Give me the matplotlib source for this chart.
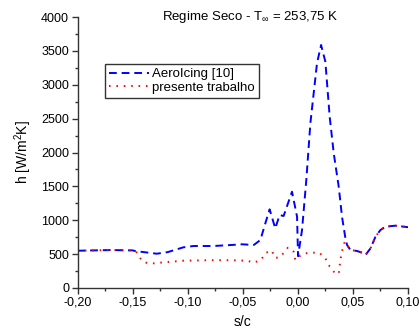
import matplotlib
matplotlib.use("Agg")
import matplotlib.pyplot as plt
from matplotlib.ticker import MultipleLocator, FuncFormatter

plt.rcParams['font.family'] = ['Liberation Sans', 'DejaVu Sans']
plt.rcParams['mathtext.fontset'] = 'custom'
plt.rcParams['mathtext.rm'] = 'Liberation Sans'
plt.rcParams['mathtext.it'] = 'Liberation Sans'

# AeroIcing [10] reference distribution
s_aero = [-0.200, -0.170, -0.150, -0.1477, -0.135, -0.128, -0.118, -0.104, -0.0947,
          -0.0765, -0.0600, -0.0507, -0.0400, -0.0340, -0.0295, -0.0256, -0.0205,
          -0.0165, -0.0129, -0.0053, -0.0007, 0.0002, 0.0038, 0.0077, 0.0114,
          0.0174, 0.0211, 0.0250, 0.0289, 0.0326, 0.0371, 0.0401, 0.0432, 0.0447,
          0.0477, 0.0538, 0.0583, 0.0614, 0.0660, 0.0705, 0.0750, 0.0795, 0.0886,
          0.1007]
h_aero = [550, 560, 555, 546, 520, 506, 530, 600, 620,
          620, 635, 645, 635, 708, 955, 1161, 881,
          1077, 1063, 1421, 1052, 470, 856, 1594, 2435,
          3317, 3587, 3340, 2529, 1988, 1496, 1052, 733, 635,
          561, 546, 521, 487, 586, 757, 856, 905, 920,
          896]

# present work
s_pres = [-0.200, -0.170, -0.150, -0.147, -0.143, -0.1386, -0.131, -0.125, -0.104,
          -0.080, -0.060, -0.046, -0.040, -0.0335, -0.0289, -0.0235, -0.0210,
          -0.0175, -0.0130, -0.0090, -0.0038, -0.0023, 0.0007, 0.0068, 0.0129,
          0.0195, 0.0250, 0.0280, 0.0326, 0.0371, 0.0386, 0.0400, 0.0426, 0.0447,
          0.0477, 0.0538, 0.0583, 0.0614, 0.0660, 0.0705, 0.0750, 0.0795, 0.0886,
          0.1007]
h_pres = [550, 560, 555, 545, 438, 374, 364, 374, 403,
          410, 410, 403, 374, 413, 521, 551, 448,
          448, 512, 595, 536, 413, 462, 512, 521,
          521, 438, 339, 241, 207, 413, 536, 684, 635,
          561, 546, 521, 487, 586, 757, 856, 905, 920,
          896]

W, H = 419, 333
fig = plt.figure(figsize=(W / 100, H / 100), dpi=100)
ax = fig.add_axes([77.5 / W, (H - 288) / H, (408 - 77.5) / W, (288 - 17) / H])

ax.plot(s_aero, h_aero, color='#0000ff', lw=1.4, ls=(0, (4.0, 2.5)),
        label='AeroIcing [10]')
ax.plot(s_pres, h_pres, color='#ff0000', lw=1.4, ls=(0, (0.8, 3.0)),
        label='presente trabalho')

ax.set_xlim(-0.20, 0.10)
ax.set_ylim(0, 4000)
ax.xaxis.set_major_locator(MultipleLocator(0.05))
ax.xaxis.set_minor_locator(MultipleLocator(0.025))
ax.yaxis.set_major_locator(MultipleLocator(500))
ax.yaxis.set_minor_locator(MultipleLocator(250))
ax.xaxis.set_major_formatter(FuncFormatter(lambda v, p: f"{v:.2f}".replace('.', ',').replace('-0,00', '0,00')))

for side in ('top', 'right'):
    ax.spines[side].set_visible(False)
for side in ('left', 'bottom'):
    ax.spines[side].set_color('#333333')
    ax.spines[side].set_linewidth(1.0)

ax.tick_params(which='major', direction='out', length=4, width=1, colors='#333333',
               labelsize=9, labelcolor='black', pad=2)
ax.tick_params(which='minor', direction='out', length=2.5, width=1, colors='#333333')

ax.set_xlabel('s/c', fontsize=10, labelpad=5)
ax.set_ylabel('h [W/m$^2$K]', fontsize=10, labelpad=5)

fig.text(250 / W, 1 - 17 / H, 'Regime Seco - T$_\\infty$ = 253,75 K', ha='center',
         va='center', fontsize=9.5)

leg = ax.legend(loc='upper left', bbox_to_anchor=((105 - 77.5) / 330.5, (288 - 64) / 271),
                borderaxespad=0, fontsize=9.5, handlelength=3.0, handletextpad=0.3,
                labelspacing=0.1, borderpad=0.3, fancybox=False, frameon=True)
leg.get_frame().set_edgecolor('black')
leg.get_frame().set_linewidth(1.0)

fig.savefig('out.png', dpi=100)
